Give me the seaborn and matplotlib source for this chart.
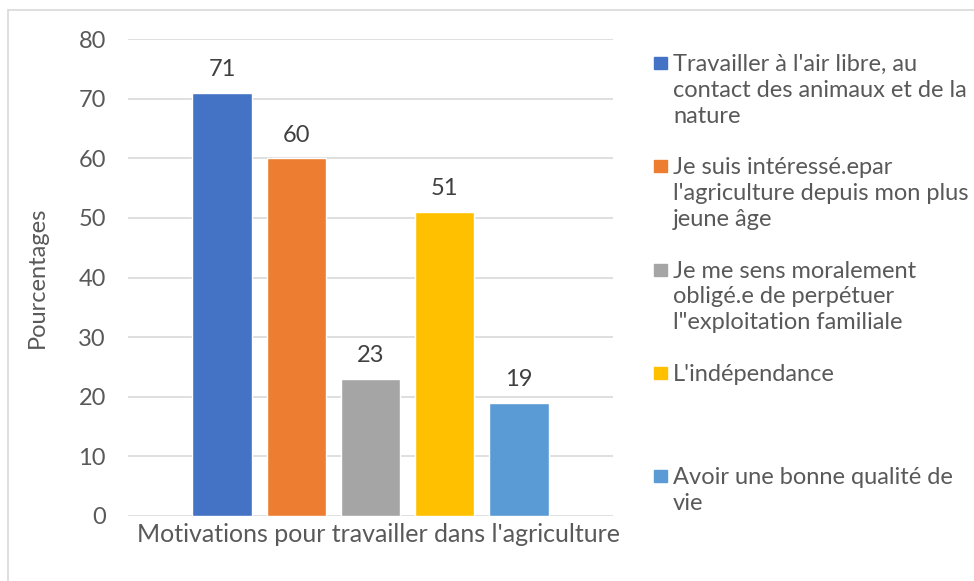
import matplotlib
matplotlib.use("Agg")
import matplotlib.pyplot as plt
from matplotlib.patches import Rectangle
from matplotlib.lines import Line2D
from matplotlib.transforms import ScaledTranslation
import pandas as pd
import seaborn as sns

category = ["Motivations pour travailler dans l'agriculture"]
series = [
    "Travailler à l'air libre, au\ncontact des animaux et de la\nnature",
    "Je suis intéressé.epar\nl'agriculture depuis mon plus\njeune âge",
    "Je me sens moralement\nobligé.e de perpétuer\nl\"exploitation familiale",
    "L'indépendance",
    "Avoir une bonne qualité de\nvie",
]
values = [71, 60, 23, 51, 19]
colors = ["#4472C4", "#ED7D31", "#A5A5A5", "#FFC000", "#5B9BD5"]

sns.set_theme(style="white")
plt.rcParams['font.family'] = ['Lato', 'DejaVu Sans']
txt = "#595959"
fs = 17

df = pd.DataFrame({"cat": category * len(series), "serie": series, "val": values})

fig = plt.figure(figsize=(9.74, 5.81), dpi=100)
ax = fig.add_axes([128 / 974, 1 - 516 / 581, 485 / 974, 477 / 581])

sns.barplot(data=df, x="cat", y="val", hue="serie", palette=colors,
            width=0.765, gap=0.2, saturation=1, legend=False, ax=ax)

for c in ax.containers:
    ax.bar_label(c, padding=9, fontsize=fs, color="#404040")

ax.set_xlim(-0.5, 0.5)
ax.set_ylim(0, 80)
ax.set_yticks(range(0, 81, 10))
ax.yaxis.grid(True, color="#D9D9D9", lw=1.2)
ax.set_axisbelow(True)
for s in ax.spines.values():
    s.set_visible(False)
ax.tick_params(axis="both", length=0, labelsize=fs, colors=txt)
ax.tick_params(axis="y", pad=16)
ax.tick_params(axis="x", pad=5, labelsize=18)
# Excel centres the category label a bit right of the plot centre
for lbl in ax.get_xticklabels():
    lbl.set_transform(lbl.get_transform() + ScaledTranslation(0.08, 0, fig.dpi_scale_trans))
ax.set_xlabel("")
ax.set_ylabel("Pourcentages", fontsize=fs, color=txt)
ax.yaxis.set_label_coords(-0.165, 0.5)

# legend drawn by hand, Excel style (fixed slot per entry)
y0 = 1 - 63 / 581
step = 103.3 / 581
for i, (lab, col) in enumerate(zip(series, colors)):
    yc = y0 - i * step
    fig.patches.append(Rectangle((654 / 974, yc - 6 / 581), 13 / 974, 12 / 581,
                                 transform=fig.transFigure, color=col))
    fig.text(673 / 974, yc + 9 / 581, lab, fontsize=fs, color=txt, va="top",
             ha="left", linespacing=1.28)

# chart area border
fig.add_artist(Line2D([8 / 974, 1], [1 - 10 / 581] * 2, transform=fig.transFigure,
                      color="#D9D9D9", lw=1.2))
fig.add_artist(Line2D([8 / 974] * 2, [0, 1 - 10 / 581], transform=fig.transFigure,
                      color="#D9D9D9", lw=1.2))

fig.savefig("out.png", dpi=100)
